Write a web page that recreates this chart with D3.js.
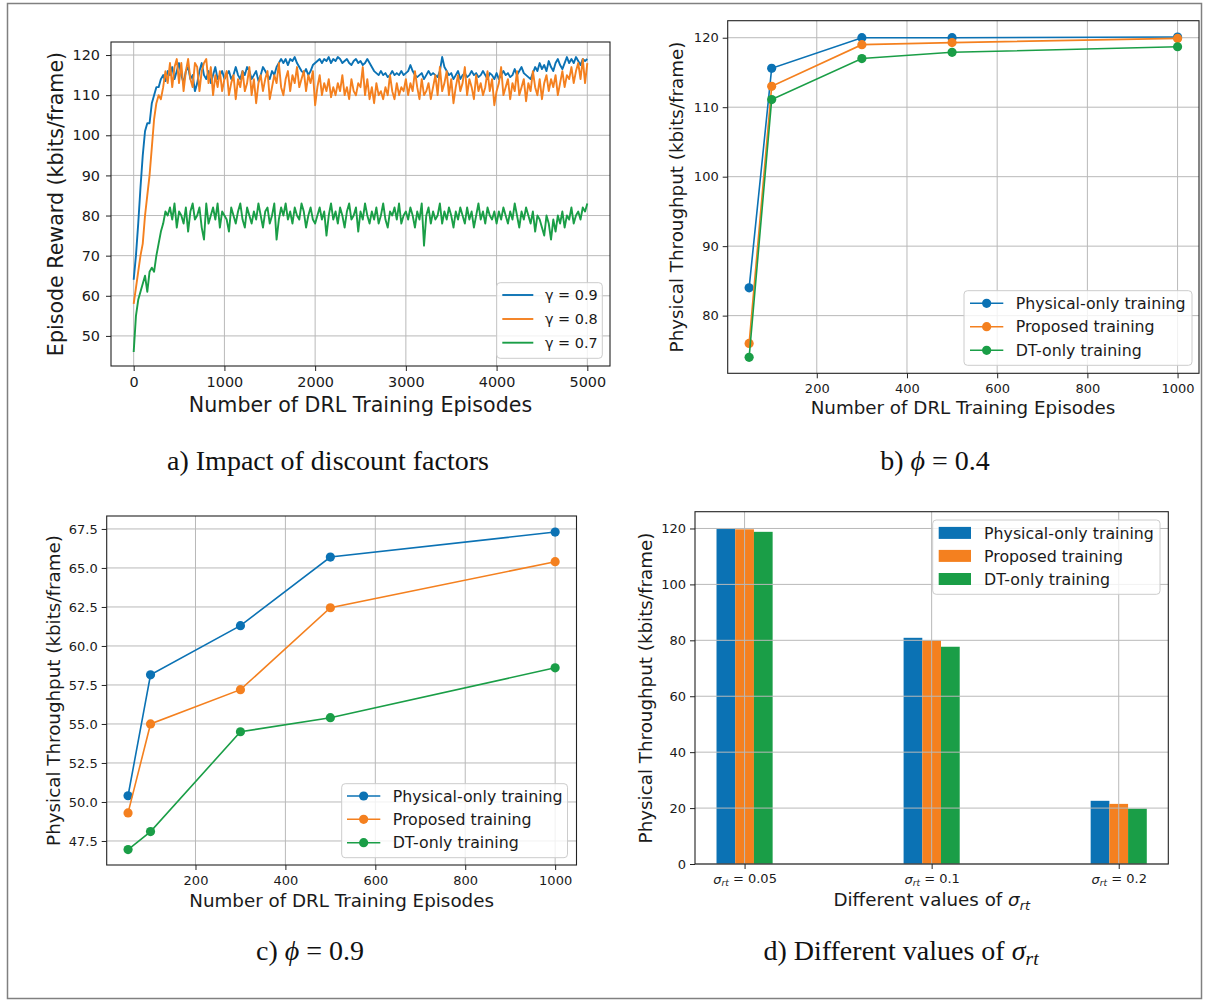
<!DOCTYPE html>
<html><head><meta charset="utf-8">
<script src="https://cdn.jsdelivr.net/npm/d3@7"></script>
<style>body{margin:0;background:#fff}svg{display:block}</style>
</head><body>
<svg id="chart" width="1210" height="1001"></svg>
<script>
// ---------------- DATA ----------------
// Panel a: episode reward, sampled every 25 episodes (0..5000)
const episodeStepA = 25;
const gamma09 = [64,70,78,87,95,101,103,103,108,110,112,112,114,115,113.5,116,115,
117,114,116,118,115,113,116,117,114,115,111,113,116,118,115,114,116,113,115,117,114,115,116,114,
115,116,114,115,117,115,114,116,115,117,116,114,115,116,113.5,115,117,116,115,114,116,115,117,118,
119,118,119,117.5,119,118.5,119.5,118,117,116,115.5,116.5,115,116,117.5,118,
118.5,119,118,119,118.5,119.5,118,119,118.5,119.5,119,118,118.5,119,118,117.5,118.5,119,118,118.5,117.5,118,119,118,
117,116,115.5,115,116,115,115.5,114.5,115,116,115,115.5,115,116,115,115.5,
116,117.5,116,115,114.5,115,115.5,114,115,116,115,115.5,115,114.5,116,119.5,117,116,115,115.5,114,115,116,114,
115,115.5,114.5,115,116,115,115.5,114.5,115,116,115,114,115.5,115,114,115.5,
114,115,116,115,115.5,114.5,115,116.5,115,116,117,115.5,115,114.5,114,115.5,117,116,118,116.5,117.5,116,118.5,117,
116,118,119,117.5,116.5,118,119.5,118,119,118,119.5,118.5,117.5,119,118.5,119];
const gamma08 = [58,62,66,70,73,80,85,90,97,104,108,110,109,112,116,113,118,
112,117,119,113,118,111,116,119,114,112,118,117,111,116,118,119,113,117,110,115,112,116,111,114,
116,110,113,115,109,114,112,116,111,113,117,110,114,108,113,115,111,114,116,109,112,115,113,118,
112,110,114,116,111,115,113,117,112,114,116,111,115,113,116,107.5,
112,115,110,113,111,114,109.5,112,110,113,111,115,110,112,109,114,111,110,113,112,117,110,114,109,
112,108,113,110,111,109,112,110,115,111,109,113,110,112,111,114,
110,113,111,116,112,109,114,110,111,113,109,112,115,110,117,111,113,116,110,114,108,112,115,111,
113,117,110,114,112,109,115,111,113,110,112,116,111,114,107.5,111,
113,117,110,112,114,109,113,111,116,110,112,114,108.5,113,111,116,112,110,114,109,113,115,111,114,
112,115,110,113,116,112,115,114,117,113,116,118,114,119,113,118];
const gamma07 = [46,55,59,61,63,65,61,66,67,66,70,73,76,78,81,80,82,
79,83,77,81,80,78,82,76,81,83,79,80,82,77,74,83,78,80,82,79,83,77,81,80,
79,76,82,80,78,81,83,79,77,82,80,78,81,79,83,80,77,81,82,78,80,83,74,79,
82,80,83,79,81,78,82,80,79,83,81,77,80,82,79,78,
80,82,79,81,75,80,83,79,81,78,82,80,77,81,83,79,80,82,76,81,79,83,80,78,
81,79,82,78,80,83,79,77,81,80,82,79,83,78,80,81,
79,82,80,77,81,79,83,72.5,80,82,78,81,79,80,83,78,81,79,82,80,77,81,79,82,
80,78,82,79,81,77,80,83,79,81,78,82,80,79,81,78,
81,79,82,80,78,81,79,83,80,77,81,79,82,80,78,81,76,80,79,77,75,80,78,74,
79,76,80,78,81,77,80,79,82,78,80,81,79,82,81,83];
const gammaLabels = ["γ = 0.9", "γ = 0.8", "γ = 0.7"];

// Panels b, c: throughput vs training episodes
const episodesBC = [50, 100, 300, 500, 1000];
const physicalB = [84, 115.6, 120, 120, 120.1];
const proposedB = [76, 113, 119, 119.3, 119.9];
const dtOnlyB   = [74, 111.1, 117, 117.9, 118.7];
const physicalC = [50.4, 58.15, 61.3, 65.7, 67.3];
const proposedC = [49.3, 55.0, 57.2, 62.45, 65.4];
const dtOnlyC   = [46.95, 48.1, 54.5, 55.4, 58.6];
const seriesNames = ["Physical-only training", "Proposed training", "DT-only training"];

// Panel d: different sigma_rt
const sigmaValues = ["0.05", "0.1", "0.2"];
const physicalD = [119.8, 80.9, 22.6];
const proposedD = [119.7, 80.0, 21.5];
const dtOnlyD   = [118.8, 77.7, 19.8];

// Tick values
const ticksAx = [0, 1000, 2000, 3000, 4000, 5000];
const ticksAy = [50, 60, 70, 80, 90, 100, 110, 120];
const ticksBx = [200, 400, 600, 800, 1000];
const ticksBy = [80, 90, 100, 110, 120];
const ticksCy = [47.5, 50, 52.5, 55, 57.5, 60, 62.5, 65, 67.5];
const ticksDy = [0, 20, 40, 60, 80, 100, 120];

// ---------------- DRAWING ----------------
const svg = d3.select("#chart");
const FONT = "'DejaVu Sans', sans-serif";
const SERIF = "'Liberation Serif', 'Times New Roman', serif";
const INK = "#1a1a1a";
const COLORS = ["#0b72b4", "#f4801f", "#1a9e47"];

// outer border
svg.append("rect").attr("x", 7.5).attr("y", 3.5).attr("width", 1194).attr("height", 995)
  .attr("fill", "none").attr("stroke", "#808080").attr("stroke-width", 1.5);

function panel(L, xDom, yDom, o) {
  const x = d3.scaleLinear().domain(xDom).range([L.x0, L.x1]);
  const y = d3.scaleLinear().domain(yDom).range([L.y1, L.y0]);
  const root = svg.append("g");
  const under = root.append("g");
  const grid = root.append("g").attr("stroke", "#b9b9b9").attr("stroke-width", 1);
  const marks = root.append("g");
  o.xticks.forEach(v => grid.append("line").attr("x1", x(v)).attr("x2", x(v)).attr("y1", L.y0).attr("y2", L.y1));
  o.yticks.forEach(v => grid.append("line").attr("y1", y(v)).attr("y2", y(v)).attr("x1", L.x0).attr("x2", L.x1));
  const ax = d3.axisBottom(x).tickValues(o.xticks).tickSize(5).tickPadding(o.xpad).tickFormat(o.xfmt || d3.format("d"));
  const gx = root.append("g").attr("transform", `translate(0,${L.y1})`).call(ax);
  const ay = d3.axisLeft(y).tickValues(o.yticks).tickSize(5).tickPadding(o.ypad).tickFormat(o.yfmt || d3.format("d"));
  const gy = root.append("g").attr("transform", `translate(${L.x0},0)`).call(ay);
  [gx, gy].forEach(gg => {
    gg.select(".domain").remove();
    gg.attr("font-family", FONT).attr("font-size", o.tickFs);
    gg.selectAll(".tick line").attr("stroke", "#222").attr("stroke-width", 1);
    gg.selectAll(".tick text").attr("fill", INK);
  });
  root.append("rect").attr("x", L.x0).attr("y", L.y0).attr("width", L.x1 - L.x0).attr("height", L.y1 - L.y0)
    .attr("fill", "none").attr("stroke", "#222").attr("stroke-width", 1.1);
  // axis labels
  const xl = root.append("text").attr("x", o.xlab[0]).attr("y", o.xlab[1]).attr("dy", "0.35em")
    .attr("text-anchor", "middle").attr("font-family", FONT).attr("font-size", o.labFs).attr("fill", INK);
  if (typeof o.xlabel === "string") xl.text(o.xlabel); else o.xlabel(xl);
  root.append("text").attr("transform", `translate(${o.ylab[0]},${o.ylab[1]}) rotate(-90)`).attr("dy", "0.35em")
    .attr("text-anchor", "middle").attr("font-family", FONT).attr("font-size", o.labFs).attr("fill", INK).text(o.ylabel);
  return {x, y, root, under, marks, gx, gy};
}

function legend(box, rows, names, fs, kind) {
  const g = svg.append("g");
  g.append("rect").attr("x", box.x0).attr("y", box.y0).attr("width", box.x1 - box.x0).attr("height", box.y1 - box.y0)
    .attr("rx", 3.5).attr("fill", "#fff").attr("fill-opacity", 0.8).attr("stroke", "#cccccc").attr("stroke-width", 1);
  names.forEach((n, i) => {
    const cy = rows[i];
    if (kind === "patch") {
      g.append("rect").attr("x", box.h0).attr("y", cy - 6).attr("width", box.h1 - box.h0).attr("height", 12).attr("fill", COLORS[i]);
    } else {
      g.append("line").attr("x1", box.h0).attr("x2", box.h1).attr("y1", cy).attr("y2", cy)
        .attr("stroke", COLORS[i]).attr("stroke-width", kind === "line" ? 1.9 : 1.6);
      if (kind === "marker") g.append("circle").attr("cx", (box.h0 + box.h1) / 2).attr("cy", cy).attr("r", 4.6).attr("fill", COLORS[i]);
    }
    g.append("text").attr("x", box.tx).attr("y", cy).attr("dy", "0.36em").attr("font-family", FONT)
      .attr("font-size", fs).attr("fill", INK).text(n);
  });
}

// ---- Panel a ----
const A = panel({x0: 111, x1: 610, y0: 42, y1: 366}, [-250, 5250], [42.5, 123.25], {
  xticks: ticksAx, yticks: ticksAy, xpad: 6, ypad: 6, tickFs: 14.4, labFs: 20.6,
  xlabel: "Number of DRL Training Episodes", ylabel: "Episode Reward (kbits/frame)",
  xlab: [360.5, 405], ylab: [56, 204]
});
[gamma09, gamma08, gamma07].forEach((s, k) => {
  A.marks.append("path").datum(s)
    .attr("d", d3.line().x((d, i) => A.x(i * episodeStepA)).y(d => A.y(d)))
    .attr("fill", "none").attr("stroke", COLORS[k]).attr("stroke-width", 1.9).attr("stroke-linejoin", "round");
});
legend({x0: 496.7, x1: 602.3, y0: 282.7, y1: 358.3, h0: 502.3, h1: 533.3, tx: 545}, [295, 319, 342.7], gammaLabels, 14.4, "line");

// ---- Panels b, c ----
function linePanel(L, yDom, yticks, yfmt, series, lab, leg) {
  const P = panel(L, [2.5, 1047.5], yDom, {
    xticks: ticksBx, yticks: yticks, yfmt: yfmt, xpad: 5.5, ypad: 4, tickFs: 13, labFs: 18.3,
    xlabel: "Number of DRL Training Episodes", ylabel: "Physical Throughput (kbits/frame)",
    xlab: lab.x, ylab: lab.y
  });
  series.forEach((s, k) => {
    const pts = episodesBC.map((e, i) => [e, s[i]]);
    P.marks.append("path").datum(pts).attr("d", d3.line().x(d => P.x(d[0])).y(d => P.y(d[1])))
      .attr("fill", "none").attr("stroke", COLORS[k]).attr("stroke-width", 1.6);
    P.marks.selectAll(null).data(pts).enter().append("circle")
      .attr("cx", d => P.x(d[0])).attr("cy", d => P.y(d[1])).attr("r", 4.6).attr("fill", COLORS[k]);
  });
  legend(leg.box, leg.rows, seriesNames, 15.8, "marker");
}
linePanel({x0: 727.7, x1: 1199, y0: 20.7, y1: 373.3}, [71.7, 122.45], ticksBy, d3.format("d"),
  [physicalB, proposedB, dtOnlyB], {x: [963, 408], y: [677, 197]},
  {box: {x0: 964, x1: 1192, y0: 290.7, y1: 365.3, h0: 970, h1: 1003.3, tx: 1015.7}, rows: [303.3, 326.7, 350.3]});
linePanel({x0: 106.7, x1: 576.5, y0: 516, y1: 865}, [45.96, 68.33], ticksCy, d3.format(".1f"),
  [physicalC, proposedC, dtOnlyC], {x: [341.6, 901], y: [53.3, 690.5]},
  {box: {x0: 341.7, x1: 567.5, y0: 783.7, y1: 857.7, h0: 347, h1: 380.3, tx: 392.7}, rows: [796, 819.3, 842.7]});

// ---- Panel d ----
function sigmaText(t, tail) {
  t.append("tspan").attr("font-style", "italic").text("σ");
  t.append("tspan").attr("font-style", "italic").attr("font-size", "0.7em").attr("dy", "0.28em").text("rt");
  if (tail) t.append("tspan").attr("dy", "-0.2em").text(tail);
}
const catIdx = sigmaValues.map((v, i) => i);
const D = panel({x0: 695, x1: 1168.3, y0: 511.7, y1: 864}, [-0.265, 2.265], [0, 126], {
  xticks: catIdx, yticks: ticksDy, xfmt: () => "", xpad: 5.5, ypad: 4, tickFs: 13, labFs: 18.3,
  xlabel: t => { t.append("tspan").text("Different values of "); sigmaText(t, null); },
  ylabel: "Physical Throughput (kbits/frame)", xlab: [931.7, 900], ylab: [645.8, 688]
});
D.gx.selectAll(".tick text").each(function(d, i) {
  const t = d3.select(this).text("").attr("dy", null).attr("y", 19.5);
  sigmaText(t, " = " + sigmaValues[i]);
});
const barW = 0.1, barOff = [-0.1, 0, 0.1];
[physicalD, proposedD, dtOnlyD].forEach((s, k) => {
  D.under.selectAll(null).data(s).enter().append("rect")
    .attr("x", (v, i) => D.x(i + barOff[k] - barW / 2))
    .attr("width", D.x(barW) - D.x(0))
    .attr("y", v => D.y(v)).attr("height", v => D.y(0) - D.y(v))
    .attr("fill", COLORS[k]);
});
legend({x0: 932.7, x1: 1160, y0: 520, y1: 594.3, h0: 938.7, h1: 971, tx: 984}, [532.9, 555.9, 579], seriesNames, 15.8, "patch");

// ---- Captions ----
function caption(cx, cy, build) {
  const t = svg.append("text").attr("x", cx).attr("y", cy).attr("text-anchor", "middle")
    .attr("font-family", SERIF).attr("font-size", 28).attr("fill", "#111");
  build(t);
}
caption(328, 470, t => t.text("a) Impact of discount factors"));
caption(935, 470, t => { t.append("tspan").text("b) "); t.append("tspan").attr("font-style", "italic").text("ϕ"); t.append("tspan").text(" = 0.4"); });
caption(310, 960, t => { t.append("tspan").text("c) "); t.append("tspan").attr("font-style", "italic").text("ϕ"); t.append("tspan").text(" = 0.9"); });
caption(901, 960, t => {
  t.append("tspan").text("d) Different values of ");
  t.append("tspan").attr("font-style", "italic").text("σ");
  t.append("tspan").attr("font-style", "italic").attr("font-size", "0.7em").attr("dy", "0.25em").text("rt");
});
</script>
</body></html>
